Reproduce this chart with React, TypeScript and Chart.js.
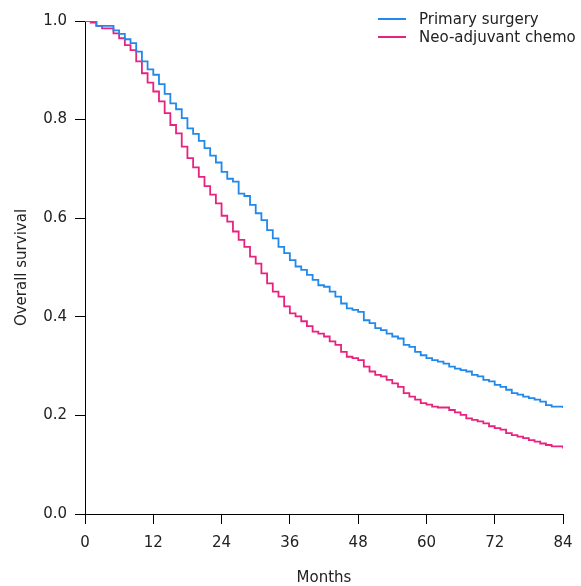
import React, { useEffect, useRef } from "react";
import { Chart, registerables } from "chart.js";

Chart.register(...registerables);

const seriesNames = ["Primary surgery", "Neo-adjuvant chemo"];
const seriesColors = ["#2189ea", "#e8237f"];

const surgeryMonths = [0, 2, 5, 6, 7, 8, 9, 10, 11, 12, 13, 14, 15, 16, 17, 18, 19, 20, 21, 22, 23, 24, 25, 26, 27, 28, 29, 30, 31, 32, 33, 34, 35, 36, 37, 38, 39, 40, 41, 42, 43, 44, 45, 46, 47, 48, 49, 50, 51, 52, 53, 54, 55, 56, 57, 58, 59, 60, 61, 62, 63, 64, 65, 66, 67, 68, 69, 70, 71, 72, 73, 74, 75, 76, 77, 78, 79, 80, 81, 82, 84];
const surgerySurvival = [1.0, 0.99, 0.981, 0.974, 0.963, 0.955, 0.938, 0.918, 0.902, 0.891, 0.872, 0.852, 0.833, 0.821, 0.803, 0.782, 0.771, 0.757, 0.742, 0.727, 0.713, 0.694, 0.68, 0.674, 0.65, 0.645, 0.627, 0.61, 0.596, 0.576, 0.559, 0.542, 0.529, 0.515, 0.502, 0.495, 0.485, 0.475, 0.464, 0.461, 0.451, 0.441, 0.427, 0.417, 0.414, 0.41, 0.393, 0.387, 0.377, 0.373, 0.366, 0.36, 0.356, 0.343, 0.339, 0.329, 0.322, 0.316, 0.312, 0.309, 0.305, 0.299, 0.295, 0.292, 0.289, 0.282, 0.279, 0.272, 0.269, 0.262, 0.258, 0.252, 0.245, 0.242, 0.238, 0.235, 0.232, 0.228, 0.221, 0.218, 0.215];

const chemoMonths = [0, 1, 2, 3, 5, 6, 7, 8, 9, 10, 11, 12, 13, 14, 15, 16, 17, 18, 19, 20, 21, 22, 23, 24, 25, 26, 27, 28, 29, 30, 31, 32, 33, 34, 35, 36, 37, 38, 39, 40, 41, 42, 43, 44, 45, 46, 47, 48, 49, 50, 51, 52, 53, 54, 55, 56, 57, 58, 59, 60, 61, 62, 64, 65, 66, 67, 68, 69, 70, 71, 72, 73, 74, 75, 76, 77, 78, 79, 80, 81, 82, 84];
const chemoSurvival = [1.0, 0.997, 0.99, 0.985, 0.975, 0.965, 0.951, 0.941, 0.918, 0.894, 0.875, 0.857, 0.837, 0.813, 0.789, 0.772, 0.745, 0.722, 0.703, 0.684, 0.665, 0.648, 0.63, 0.605, 0.593, 0.573, 0.556, 0.542, 0.522, 0.508, 0.488, 0.468, 0.451, 0.441, 0.421, 0.407, 0.401, 0.391, 0.381, 0.37, 0.366, 0.36, 0.35, 0.343, 0.329, 0.319, 0.316, 0.312, 0.299, 0.289, 0.282, 0.279, 0.272, 0.265, 0.258, 0.245, 0.238, 0.232, 0.225, 0.222, 0.218, 0.216, 0.211, 0.206, 0.201, 0.194, 0.191, 0.188, 0.184, 0.178, 0.174, 0.171, 0.164, 0.16, 0.157, 0.154, 0.15, 0.147, 0.143, 0.14, 0.137, 0.133];

const xTitle = "Months";
const yTitle = "Overall survival";
const xMax = 84;
const xStep = 12;
const yStep = 0.2;

const FONT = "DejaVu Sans";
const TEXT = "#222";

export default function App() {
  const ref = useRef<HTMLCanvasElement | null>(null);

  useEffect(() => {
    document.body.style.margin = "0";
    const canvas = ref.current;
    if (!canvas) return;

    const mk = (xs: number[], ys: number[]) => xs.map((x, i) => ({ x, y: ys[i] }));

    const overlay = {
      id: "overlay",
      afterDraw(chart: any) {
        const ctx = chart.ctx as CanvasRenderingContext2D;
        const area = chart.chartArea;
        ctx.save();
        ctx.fillStyle = TEXT;
        ctx.font = `15px "${FONT}"`;
        ctx.textAlign = "center";
        ctx.textBaseline = "middle";
        ctx.fillText(xTitle, (area.left + area.right) / 2, 578);
        ctx.save();
        ctx.translate(22, (area.top + area.bottom) / 2);
        ctx.rotate(-Math.PI / 2);
        ctx.fillText(yTitle, 0, 0);
        ctx.restore();
        // legend
        ctx.textAlign = "left";
        seriesNames.forEach((name, i) => {
          const y = 19 + i * 18;
          ctx.strokeStyle = seriesColors[i];
          ctx.lineWidth = 2;
          ctx.beginPath();
          ctx.moveTo(378, y);
          ctx.lineTo(406, y);
          ctx.stroke();
          ctx.fillStyle = TEXT;
          ctx.fillText(name, 419, y + 1);
        });
        ctx.restore();
      },
    };

    const chart = new Chart(canvas, {
      type: "line",
      data: {
        datasets: [
          {
            label: seriesNames[0],
            data: mk(surgeryMonths, surgerySurvival),
            borderColor: seriesColors[0],
            backgroundColor: seriesColors[0],
            borderWidth: 1.8,
            pointRadius: 0,
            stepped: "before",
            fill: false,
          },
          {
            label: seriesNames[1],
            data: mk(chemoMonths, chemoSurvival),
            borderColor: seriesColors[1],
            backgroundColor: seriesColors[1],
            borderWidth: 1.8,
            pointRadius: 0,
            stepped: "before",
            fill: false,
          },
        ],
      },
      options: {
        animation: false,
        responsive: false,
        devicePixelRatio: 1,
        layout: { padding: { top: 21, right: 18, left: 0, bottom: 0 } },
        plugins: {
          legend: { display: false },
          tooltip: { enabled: false },
        },
        scales: {
          x: {
            type: "linear",
            min: 0,
            max: xMax,
            afterFit: (s: any) => {
              s.height = 72;
              s.paddingRight = 0;
              s.paddingLeft = 0;
            },
            ticks: {
              stepSize: xStep,
              color: TEXT,
              font: { family: FONT, size: 15 },
              padding: 10,
              maxRotation: 0,
            },
            grid: {
              drawOnChartArea: false,
              drawTicks: true,
              tickLength: 10,
              color: "#000",
              lineWidth: 1,
            },
            border: { display: true, color: "#000", width: 1 },
          },
          y: {
            type: "linear",
            min: 0,
            max: 1,
            afterFit: (s: any) => {
              s.width = 85;
              s.paddingTop = 0;
              s.paddingBottom = 0;
            },
            ticks: {
              stepSize: yStep,
              color: TEXT,
              font: { family: FONT, size: 15 },
              padding: 8,
              callback: (v: any) => Number(v).toFixed(1),
            },
            grid: {
              drawOnChartArea: false,
              drawTicks: true,
              tickLength: 10,
              color: "#000",
              lineWidth: 1,
            },
            border: { display: true, color: "#000", width: 1 },
          },
        },
      },
      plugins: [overlay],
    } as any);

    return () => chart.destroy();
  }, []);

  return (
    <div style={{ width: 581, height: 586 }}>
      <canvas ref={ref} width={581} height={586} style={{ display: "block" }} />
    </div>
  );
}
